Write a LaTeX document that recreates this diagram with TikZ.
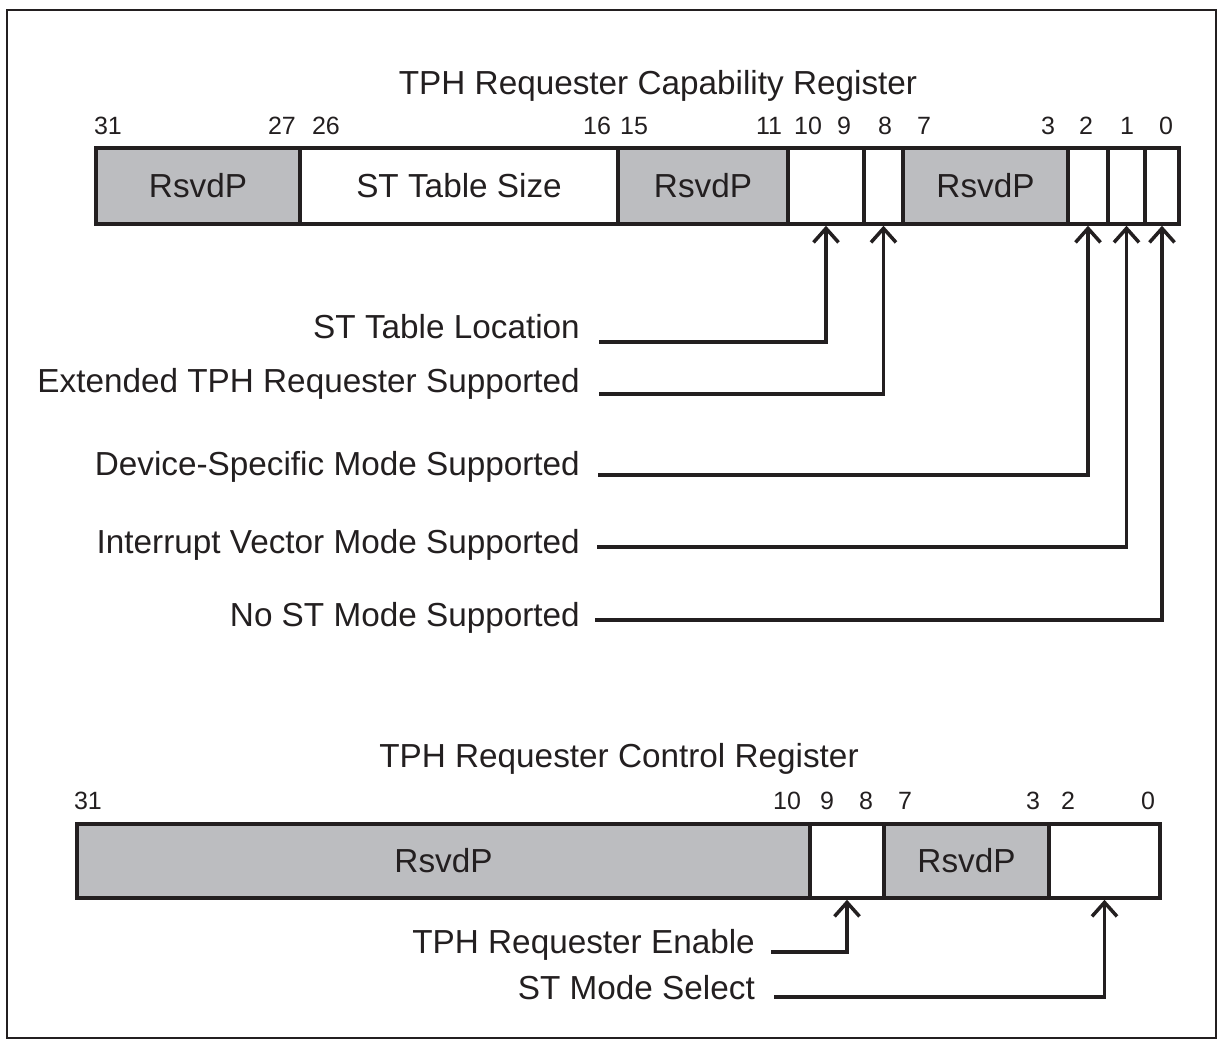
\documentclass[tikz,border=0pt]{standalone}
\usepackage{fontspec}
\setmainfont{Liberation Sans}
\usetikzlibrary{arrows.meta}
\definecolor{rsvdgray}{RGB}{188,189,192}
\definecolor{inkcol}{RGB}{35,31,32}

\begin{document}
\begin{tikzpicture}[x=1pt,y=-1pt,
	every node/.style={text=inkcol,font=\fontsize{33.3}{40}\selectfont},
	field/.style={draw=inkcol,line width=3.5pt,inner sep=0pt,fill=white},
	capfield/.style={field,minimum height=76},
	ctlfield/.style={field,minimum height=74},
	rsvd/.style={fill=rsvdgray},
	bitnum/.style={anchor=base,inner sep=0pt,font=\fontsize{25}{30}\selectfont},
	fieldname/.style={anchor=base east,inner sep=0pt},
	ptr/.style={draw=inkcol,line width=3.5pt,
		-{Straight Barb[length=14pt,width=25pt,line width=3.5pt]}}]
			
			\useasboundingbox (0,0) rectangle (1226,1047);
			\draw[inkcol,line width=2pt] (7,10) rectangle (1216,1038);
			
			\begin{scope}
				\node[anchor=base,inner sep=0pt] (captitle) at (658,94) {TPH Requester Capability Register};
				
				\node[capfield,rsvd,minimum width=204] (c3127) at (198,186) {RsvdP};
				\node[capfield,minimum width=318] (c2616) at (459,186) {ST Table Size};
				\node[capfield,rsvd,minimum width=170] (c1511) at (703,186) {RsvdP};
				\node[capfield,minimum width=76] (c109) at (826,186) {};
				\node[capfield,minimum width=39] (c8) at (883.5,186) {};
				\node[capfield,rsvd,minimum width=165] (c73) at (985.5,186) {RsvdP};
				\node[capfield,minimum width=40] (c2) at (1088,186) {};
				\node[capfield,minimum width=37] (c1) at (1126.5,186) {};
				\node[capfield,minimum width=34] (c0) at (1162,186) {};
				
				\foreach \x/\b in {108/31,282/27,326/26,597/16,634/15,769/11,808/10,844/9,885/8,924/7,1048/3,1086/2,1127/1,1166/0}
					\node[bitnum] (cb\b) at (\x,134) {\b};
				
				\node[fieldname] (loclbl) at (580,338) {ST Table Location};
				\node[fieldname] (extlbl) at (580,392) {Extended TPH Requester Supported};
				\node[fieldname] (devlbl) at (580,475) {Device-Specific Mode Supported};
				\node[fieldname] (intlbl) at (580,553) {Interrupt Vector Mode Supported};
				\node[fieldname] (nostlbl) at (580,626) {No ST Mode Supported};
				
				\coordinate (locstart) at (599,342);
				\coordinate (extstart) at (599,394);
				\coordinate (devstart) at (598,475);
				\coordinate (intstart) at (597,547);
				\coordinate (noststart) at (595,620);
				
				\draw[ptr] (locstart) -| (c109.south);
				\draw[ptr] (extstart) -| (c8.south);
				\draw[ptr] (devstart) -| (c2.south);
				\draw[ptr] (intstart) -| (c1.south);
				\draw[ptr] (noststart) -| (c0.south);
			\end{scope}
			
			\begin{scope}
				\node[anchor=base,inner sep=0pt] (ctltitle) at (619,767) {TPH Requester Control Register};
				
				\node[ctlfield,rsvd,minimum width=733] (t3110) at (443.5,861) {RsvdP};
				\node[ctlfield,minimum width=74] (t98) at (847,861) {};
				\node[ctlfield,rsvd,minimum width=165] (t73) at (966.5,861) {RsvdP};
				\node[ctlfield,minimum width=111] (t20) at (1104.5,861) {};
				
				\foreach \x/\b in {88/31,787/10,827/9,866/8,905/7,1033/3,1068/2,1148/0}
					\node[bitnum] (tb\b) at (\x,809) {\b};
				
				\node[fieldname] (enlbl) at (755,953) {TPH Requester Enable};
				\node[fieldname] (sellbl) at (755,999) {ST Mode Select};
				
				\coordinate (enstart) at (771,952);
				\coordinate (selstart) at (774,997);
				
				\draw[ptr] (enstart) -| (t98.south);
				\draw[ptr] (selstart) -| (t20.south);
			\end{scope}
		
		\end{tikzpicture}
\end{document}
